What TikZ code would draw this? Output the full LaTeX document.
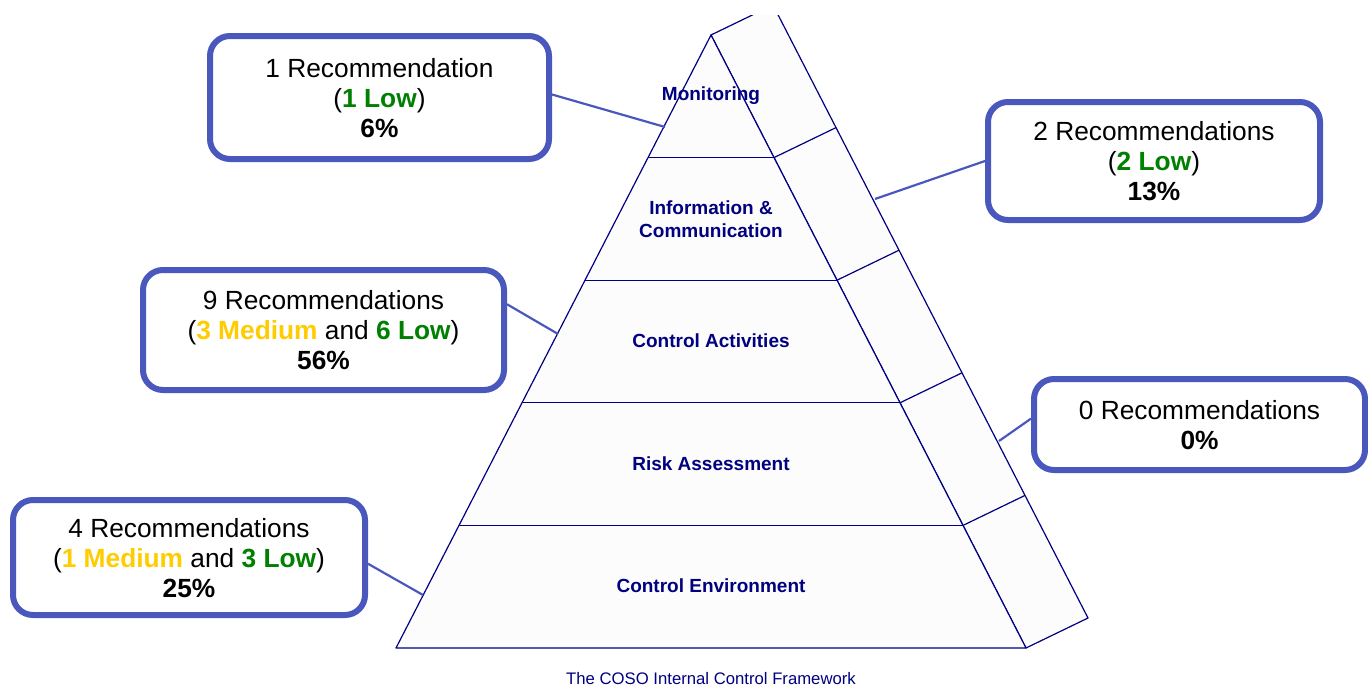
\documentclass[tikz,border=0pt]{standalone}
\usepackage{fontspec}
\setmainfont{Liberation Sans}
\definecolor{cosonavy}{RGB}{0,0,128}
\definecolor{boxblue}{RGB}{74,88,190}
\definecolor{medgold}{RGB}{255,204,0}
\definecolor{lowgreen}{RGB}{0,128,0}
\newcommand{\medrec}[1]{\textcolor{medgold}{\textbf{#1}}}
\newcommand{\lowrec}[1]{\textcolor{lowgreen}{\textbf{#1}}}
\begin{document}
\begin{tikzpicture}[x=1pt,y=-1pt,
  face/.style={draw=cosonavy, line width=1.2pt, fill=gray!2, line join=round},
  lvl/.style={text=cosonavy, font=\fontsize{19}{23}\selectfont\bfseries, align=center},
  recbox/.style={draw=boxblue, line width=6pt, rounded corners=20pt, fill=white, align=center, inner sep=0pt, text depth=0pt, font=\fontsize{26.3}{30}\selectfont},
  link/.style={draw=boxblue, line width=2.2pt}]
\useasboundingbox (0,0) rectangle (1368,688);
% pyramid corners and level points
\coordinate (apex) at (711,35);
\coordinate (bl) at (396,648);
\coordinate (br) at (1026,648);
\coordinate (l1) at (648,157.6);
\coordinate (r1) at (774,157.6);
\coordinate (l2) at (585,280.2);
\coordinate (r2) at (837,280.2);
\coordinate (l3) at (522,402.8);
\coordinate (r3) at (900,402.8);
\coordinate (l4) at (459,525.4);
\coordinate (r4) at (963,525.4);
% side face
\begin{scope}
\clip (0,15) rectangle (1368,688);
\draw[face] (apex) -- (br) -- ++(62,-30) -- (773,5) -- cycle;
\end{scope}
\draw[face] (r1) -- ++(62,-30);
\draw[face] (r2) -- ++(62,-30);
\draw[face] (r3) -- ++(62,-30);
\draw[face] (r4) -- ++(62,-30);
% front face
\draw[face] (apex) -- (bl) -- (br) -- cycle;
\draw[face] (l1) -- (r1);
\draw[face] (l2) -- (r2);
\draw[face] (l3) -- (r3);
\draw[face] (l4) -- (r4);
% level labels
\node[lvl] (monitoring) at (711,96) {Monitoring};
\node[lvl] (infocomm) at (711,219.5) {Information \&\\Communication};
\node[lvl] (ctrlact) at (711,341) {Control Activities};
\node[lvl] (riskass) at (711,464) {Risk Assessment};
\node[lvl] (ctrlenv) at (711,586) {Control Environment};
\node[text=cosonavy, font=\fontsize{16.7}{20}\selectfont] (caption) at (711,678.5) {The COSO Internal Control Framework};
% connector ends on the pyramid
\coordinate (tip1) at (665,127);
\coordinate (tip2) at (875,199);
\coordinate (tip3) at (558,334);
\coordinate (tip4) at (999,441);
\coordinate (tip5) at (423,595);
% recommendation boxes
\node[recbox, minimum width=339pt, minimum height=123pt] (box1) at (379.5,97.5) {1 Recommendation\\(\lowrec{1 Low})\\\textbf{6\%}};
\node[recbox, minimum width=332pt, minimum height=118pt] (box2) at (1154,161) {2 Recommendations\\(\lowrec{2 Low})\\\textbf{13\%}};
\node[recbox, minimum width=361pt, minimum height=120pt] (box3) at (323.5,330) {9 Recommendations\\(\medrec{3 Medium} and \lowrec{6 Low})\\\textbf{56\%}};
\node[recbox, minimum width=331pt, minimum height=91pt] (box4) at (1199.5,424.5) {0 Recommendations\\\textbf{0\%}};
\node[recbox, minimum width=352pt, minimum height=115pt] (box5) at (189,557.5) {4 Recommendations\\(\medrec{1 Medium} and \lowrec{3 Low})\\\textbf{25\%}};
\draw[link] (box1.1) -- (tip1);
\draw[link] (box2.west) -- (tip2);
\draw[link] (box3.8) -- (tip3);
\draw[link] (box4.178) -- (tip4);
\draw[link] (box5.-2) -- (tip5);
\end{tikzpicture}
\end{document}
